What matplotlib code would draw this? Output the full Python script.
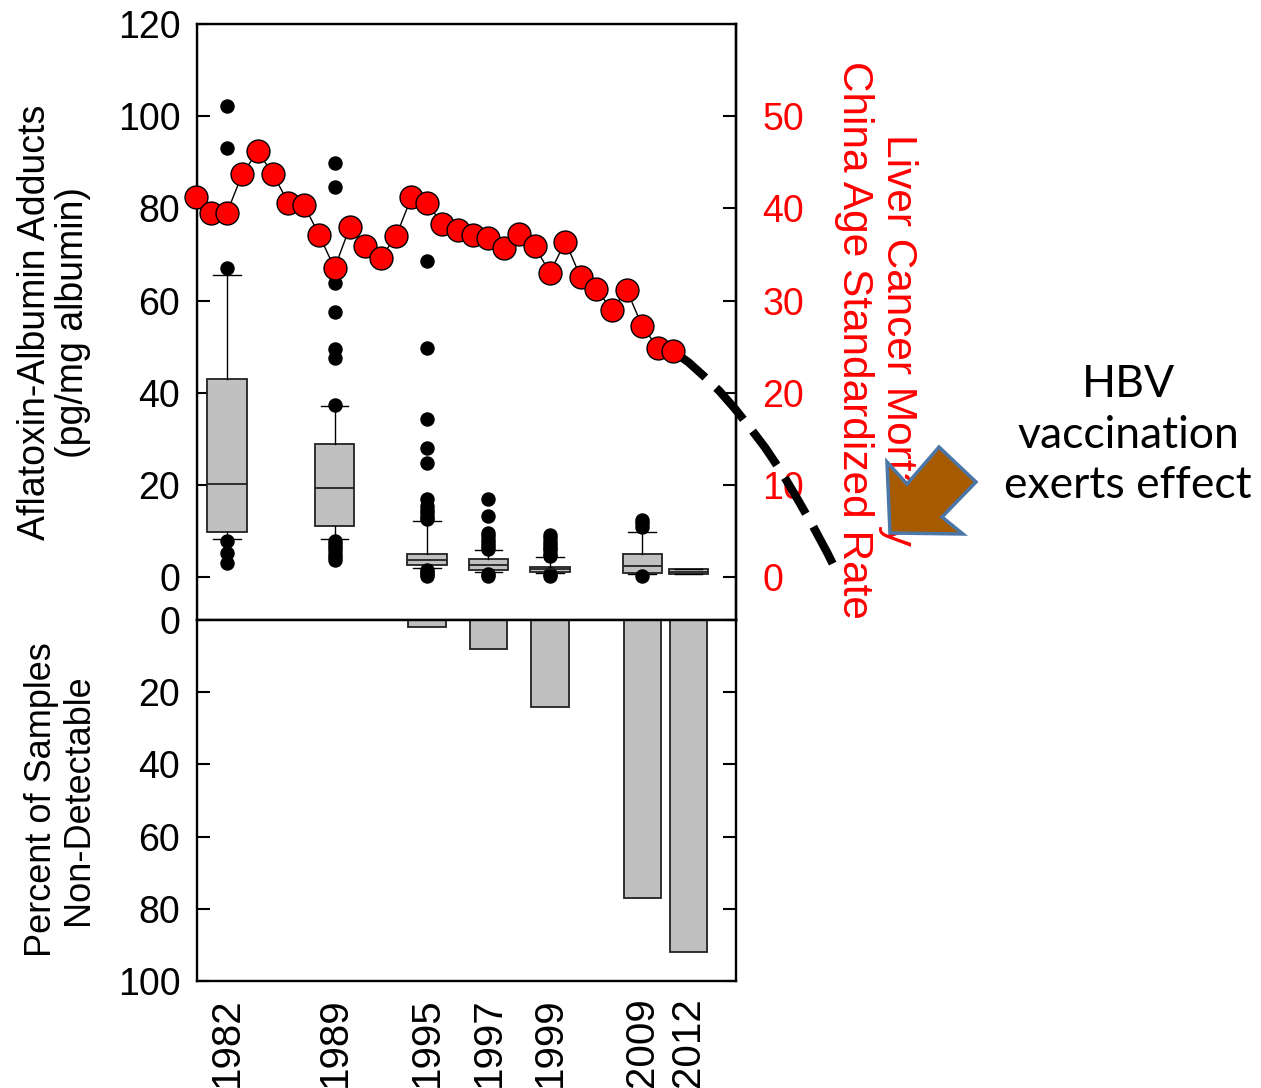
import matplotlib
matplotlib.use("Agg")
import matplotlib.pyplot as plt
from matplotlib.patches import Polygon

plt.rcParams['font.family'] = ['Liberation Sans', 'DejaVu Sans']

# ---- aflatoxin-albumin adduct surveys (pg/mg albumin) ----
survey_labels = ['1982', '1989', '1995', '1997', '1999', '2009', '2012']
survey_q1 = [9.8, 11.1, 2.5, 1.5, 1.0, 0.8, 0.6]
survey_median = [20.1, 19.4, 3.6, 2.5, 1.7, 2.4, 1.1]
survey_q3 = [42.9, 28.8, 5.0, 3.9, 2.2, 4.9, 1.7]
survey_whisker_low = [8.2, 8.2, 2.0, 1.0, 0.9, 0.6, 0.6]
survey_whisker_high = [65.5, 37.0, 12.2, 5.8, 4.3, 9.8, 1.7]
survey_outliers = [
    [102.2, 93.2, 67.1, 7.9, 5.2, 3.0],
    [89.9, 84.7, 63.9, 57.6, 49.5, 47.6, 37.3, 7.9, 7.2, 6.5, 5.8, 5.1, 4.4, 3.7],
    [68.6, 49.8, 34.2, 28.1, 24.7, 16.9, 15.3, 14.5, 13.8, 13.1, 12.5, 1.6, 1.1, 0.6, 0.2],
    [16.9, 13.2, 9.5, 8.8, 8.1, 7.4, 6.7, 6.1, 0.7, 0.3],
    [9.1, 8.4, 7.7, 7.0, 6.4, 5.8, 5.1, 4.6, 0.6, 0.2],
    [12.4, 11.7, 10.9, 0.2],
    [],
]
# percent of samples below detection limit
percent_non_detectable = [0, 0, 2, 8, 24, 77, 92]

# ---- liver cancer mortality, China age-standardized rate ----
mortality_years = list(range(1980, 2012))
mortality_rate = [41.2, 39.5, 39.5, 43.7, 46.2, 43.7, 40.6, 40.4, 37.1, 33.5,
                  38.0, 35.9, 34.6, 37.0, 41.2, 40.6, 38.3, 37.6, 37.1, 36.8,
                  35.7, 37.2, 35.9, 33.0, 36.4, 32.5, 31.3, 29.0, 31.1, 27.2,
                  24.9, 24.5]
# projected decline once HBV vaccination takes effect
projection_years = [2011, 2012, 2013, 2014, 2015, 2016, 2017, 2018, 2019, 2020, 2021, 2021.6]
projection_rate = [24.5, 23.3, 21.8, 20.2, 18.3, 16.2, 14.0, 11.5, 8.7, 5.8, 2.7, 0.7]

# survey positions on the shared calendar axis
survey_positions = [1982, 1989, 1995, 1999, 2003, 2009, 2012]

W, H = 1261, 1088
fig = plt.figure(figsize=(W / 100, H / 100), dpi=100)


def fx(px):
    return px / W


def fy(py):
    return 1 - py / H


ax = fig.add_axes([fx(197), fy(620), fx(736) - fx(197), fy(24) - fy(620)])
axb = fig.add_axes([fx(197), fy(981), fx(736) - fx(197), fy(620) - fy(981)])

xlim = (1980.06, 2015.09)
ylim_top = (-9.33, 120)

# ---- box plots ----
stats = []
for i in range(len(survey_labels)):
    stats.append(dict(q1=survey_q1[i], med=survey_median[i], q3=survey_q3[i],
                      whislo=survey_whisker_low[i], whishi=survey_whisker_high[i],
                      fliers=survey_outliers[i]))
ax.bxp(stats, positions=survey_positions, widths=2.57, capwidths=1.8,
       patch_artist=True, manage_ticks=False,
       boxprops=dict(facecolor='#c0c0c0', edgecolor='#222222', linewidth=1.3),
       medianprops=dict(color='#222222', linewidth=1.3),
       whiskerprops=dict(color='black', linewidth=1.0),
       capprops=dict(color='black', linewidth=1.0),
       flierprops=dict(marker='o', markerfacecolor='black', markeredgecolor='black',
                       markersize=9.4, linestyle='none'))
ax.set_xlim(*xlim)
ax.set_ylim(*ylim_top)
ax.set_xticks([])
ax.set_yticks([0, 20, 40, 60, 80, 100, 120])
ax.tick_params(axis='y', direction='in', length=9.4, width=1.5, labelsize=27, pad=12)
for s in ax.spines.values():
    s.set_linewidth(1.7)

# ---- mortality on the right axis ----
ax2 = ax.twinx()
ax2.set_xlim(*xlim)
ax2.set_ylim(ylim_top[0] / 2, ylim_top[1] / 2)
ax2.plot(projection_years, projection_rate, color='black', linewidth=6.0,
         linestyle=(0, (5.0, 1.8)), dash_capstyle='butt', clip_on=False, zorder=2)
ax2.plot(mortality_years, mortality_rate, color='black', linewidth=1.0, marker='o',
         markersize=16.5, markerfacecolor='#ff0000', markeredgecolor='black',
         markeredgewidth=1.0, clip_on=False, zorder=3)
ax2.set_yticks([0, 10, 20, 30, 40, 50])
ax2.tick_params(axis='y', direction='in', length=9.4, width=1.5, labelsize=27,
                labelcolor='red', pad=19)
ax2.spines['right'].set_linewidth(1.7)

# ---- non-detectable bars ----
axb.bar(survey_positions, percent_non_detectable, width=2.44, color='#c0c0c0',
        edgecolor='#222222', linewidth=1.3)
axb.set_xlim(*xlim)
axb.set_ylim(100, 0)
axb.set_yticks([0, 20, 40, 60, 80, 100])
axb.tick_params(axis='y', direction='in', length=9.4, width=1.5, labelsize=27, pad=12,
                right=True)
axb.set_xticks(survey_positions)
axb.set_xticklabels(survey_labels, rotation=90, fontsize=29)
axb.tick_params(axis='x', length=0, pad=12)
for s in axb.spines.values():
    s.set_linewidth(1.7)

# ---- axis titles ----
fig.text(fx(54), fy(322), "Aflatoxin-Albumin Adducts\n(pg/mg albumin)", rotation=90,
         ha='center', va='center', fontsize=27, linespacing=1.1)
fig.text(fx(60), fy(800), "Percent of Samples\nNon-Detectable", rotation=90,
         ha='center', va='center', fontsize=26, linespacing=1.1)
fig.text(fx(876), fy(340), "Liver Cancer Mortality\nChina Age Standardized Rate",
         rotation=270, ha='center', va='center', fontsize=30.5, color='red',
         linespacing=1.1, zorder=1)

fig.text(fx(1128), fy(435), "HBV\nvaccination\nexerts effect", ha='center', va='center',
         fontsize=32, family=['Lato', 'DejaVu Sans'], linespacing=1.3)

# ---- arrow pointing at the projected decline ----
arrow_px = [(890, 533), (887, 462), (907, 484), (939, 447), (976, 482), (942, 517), (963, 534)]
arrow = Polygon([(fx(x), fy(y)) for x, y in arrow_px], closed=True,
                transform=fig.transFigure, facecolor='#a65b00', edgecolor='#4a76a8',
                linewidth=2.5, joinstyle='miter', zorder=10)
fig.patches.append(arrow)

fig.savefig('out.png', dpi=100)
